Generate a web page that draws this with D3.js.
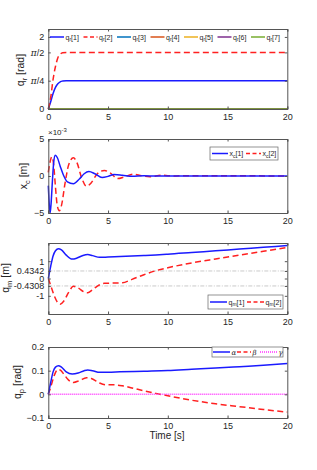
<!DOCTYPE html>
<html>
<head>
<meta charset="utf-8">
<script src="https://cdn.jsdelivr.net/npm/d3@7"></script>
<style>
  body { margin: 0; background: #fff; }
  svg { font-family: "Liberation Sans", Arial, sans-serif; }
  .axis path, .axis line { stroke: #555; }
  .axis text { fill: #262626; font-size: 9px; }
</style>
</head>
<body>
<svg id="chart" width="317" height="470"></svg>
<script>
// ---- data ----
var xTicks = [0, 5, 10, 15, 20];

// panel 1: reference joint angles
var tQr = [0, 0.2, 0.4, 0.6, 0.8, 1.0, 1.2, 1.5, 2, 20];
var qr1 = [0, 0.2, 0.43, 0.6, 0.7, 0.755, 0.775, 0.785, 0.785, 0.785];
var qr2 = [0, 0.32, 0.82, 1.18, 1.42, 1.52, 1.56, 1.571, 1.571, 1.571];
var qrZero = [0, 0, 0, 0, 0, 0, 0, 0, 0, 0];
var qrNames = ["1", "2", "3", "4", "5", "6", "7"];
var qrColors = ["#1a1aff", "#ff2020", "#0072bd", "#d95319", "#edb120", "#7e2f8e", "#77ac30"];

// panel 2: x_c (x 1e-3)
var tXc1 = [0, 0.08, 0.15, 0.22, 0.35, 0.45, 0.58, 0.75, 1.0, 1.3, 1.6, 2.1, 2.6, 3.0, 3.4, 3.9, 4.5, 5.0, 5.5, 6.2, 7, 8, 9, 20];
var xc1 = [-1.3, -3.8, -5.0, -4.0, -0.5, 1.8, 2.8, 2.5, 1.3, 0.0, -0.8, -1.05, -0.4, 0.3, 0.6, 0.3, -0.2, -0.05, 0.2, 0.1, -0.05, 0.02, 0, 0];
var tXc2 = [0, 0.1, 0.3, 0.45, 0.6, 0.75, 0.92, 1.1, 1.4, 1.7, 2.1, 2.4, 2.8, 3.2, 3.6, 4.1, 4.7, 5.2, 5.8, 6.4, 7.1, 7.8, 8.5, 9.5, 10.5, 11.5, 20];
var xc2 = [0.5, 1.5, 2.6, 1.5, -1.5, -4.0, -4.7, -4.0, -1.0, 1.5, 2.45, 1.8, -0.3, -1.4, -0.9, 0.3, 0.75, 0.4, -0.35, -0.1, 0.25, 0.05, -0.1, 0.1, 0.0, 0.05, 0];

// panel 3: q_m
var tQm1 = [0, 0.2, 0.4, 0.6, 0.85, 1.1, 1.5, 2.0, 2.4, 2.9, 3.3, 3.7, 4.3, 5, 6, 7, 8, 9, 10, 12, 14, 16, 18, 20];
var qm1 = [0, 0.7, 1.3, 1.6, 1.72, 1.65, 1.35, 1.12, 1.18, 1.33, 1.38, 1.32, 1.22, 1.24, 1.27, 1.3, 1.33, 1.36, 1.4, 1.5, 1.6, 1.7, 1.8, 1.9];
var tQm2 = [0, 0.2, 0.5, 0.8, 1.0, 1.3, 1.7, 2.1, 2.5, 3.0, 3.3, 3.7, 4.2, 4.7, 5.5, 6.2, 7, 8, 9, 10, 12, 14, 16, 18, 20];
var qm2 = [0, -0.4, -1.0, -1.4, -1.48, -1.3, -0.8, -0.45, -0.55, -0.78, -0.82, -0.65, -0.4, -0.28, -0.26, -0.25, -0.05, 0.22, 0.45, 0.62, 0.9, 1.13, 1.35, 1.57, 1.79];
var qmTicks = [-1, -0.4308, 0, 0.4342, 1];
var qmRefLines = [0.4342, -0.4308];

// panel 4: q_p
var tQp = [0, 0.2, 0.4, 0.6, 0.85, 1.1, 1.5, 2.0, 2.5, 3.0, 3.3, 3.7, 4.3, 5, 6, 8, 10, 12, 14, 16, 18, 20];
var alpha = [0, 0.05, 0.095, 0.115, 0.121, 0.115, 0.095, 0.086, 0.09, 0.1, 0.103, 0.1, 0.093, 0.093, 0.095, 0.098, 0.101, 0.106, 0.111, 0.117, 0.123, 0.13];
var tBeta = [0, 0.2, 0.5, 0.8, 1.0, 1.3, 1.7, 2.1, 2.6, 3.2, 3.6, 4.2, 4.8, 5.5, 6.2, 7, 8, 9, 10, 12, 14, 16, 18, 20];
var beta = [0, 0.03, 0.08, 0.105, 0.103, 0.085, 0.06, 0.05, 0.058, 0.07, 0.067, 0.05, 0.04, 0.04, 0.036, 0.027, 0.015, 0.004, -0.006, -0.025, -0.04, -0.052, -0.064, -0.075];
var tGamma = [0, 20];
var gamma = [0, 0];

// ---- layout ----
var svg = d3.select("#chart");
var x = d3.scaleLinear().domain([0, 20]).range([48.3, 287.3]);
var BLUE = "#1a1aff", RED = "#ff2020";
var DASH = "6,3.5";

function zip(t, v) { return t.map(function(d, i) { return [d, v[i]]; }); }

function makePanel(top, bottom, ydom, yticks, yfmt) {
  var y = d3.scaleLinear().domain(ydom).range([bottom, top]);
  var g = svg.append("g");
  var plot = g.append("g");
  var ax = g.append("g");
  ax.append("g").attr("class", "axis").attr("transform", "translate(0," + bottom + ")")
    .call(d3.axisBottom(x).tickValues(xTicks).tickSize(-2.5).tickPadding(5).tickFormat(d3.format("d")));
  ax.append("g").attr("class", "axis").attr("transform", "translate(0," + top + ")")
    .call(d3.axisTop(x).tickValues(xTicks).tickSize(-2.5).tickFormat(""));
  var yl = ax.append("g").attr("class", "axis").attr("transform", "translate(" + x.range()[0] + ",0)")
    .call(d3.axisLeft(y).tickValues(yticks).tickSize(-2.5).tickPadding(4).tickFormat(yfmt));
  ax.append("g").attr("class", "axis").attr("transform", "translate(" + x.range()[1] + ",0)")
    .call(d3.axisRight(y).tickValues(yticks).tickSize(-2.5).tickFormat(""));
  return {y: y, plot: plot, yl: yl, g: g};
}

function drawLine(p, data, color, dash, width) {
  var line = d3.line().x(function(d) { return x(d[0]); }).y(function(d) { return p.y(d[1]); })
    .curve(d3.curveMonotoneX);
  p.plot.append("path").datum(data).attr("d", line).attr("fill", "none")
    .attr("stroke", color).attr("stroke-width", width || 1.5)
    .attr("stroke-dasharray", dash || null);
}

function yLabel(cx, cy, main, sub, unit) {
  var t = svg.append("text").attr("transform", "translate(" + cx + "," + cy + ") rotate(-90)")
    .attr("text-anchor", "middle").attr("font-size", 10.5).attr("fill", "#262626");
  t.append("tspan").text(main);
  t.append("tspan").attr("dy", 2.5).attr("font-size", 7.5).text(sub);
  t.append("tspan").attr("dy", -2.5).text(" " + unit);
}

// legend item: short line + label with subscript
function legendItem(px, py, len, color, dash, width, main, sub, tail, font) {
  svg.append("line").attr("x1", px).attr("x2", px + len).attr("y1", py).attr("y2", py)
    .attr("stroke", color).attr("stroke-width", width || 1.5).attr("stroke-dasharray", dash || null);
  var t = svg.append("text").attr("x", px + len + 1.5).attr("y", py + 2.5)
    .attr("font-size", 7).attr("fill", "#262626");
  if (font) t.attr("font-family", font).attr("font-style", "italic");
  t.append("tspan").text(main);
  if (sub) {
    t.append("tspan").attr("dy", 1.8).attr("font-size", 5).text(sub);
    t.append("tspan").attr("dy", -1.8).text(tail);
  }
}

// ---- panel 1 ----
var p1 = makePanel(29, 109, [0, 2.22], [0, Math.PI / 4, Math.PI / 2, 2], function(d) { return d; });
p1.yl.selectAll(".tick text").each(function(d, i) {
  var s = d3.select(this);
  if (i === 1 || i === 2) {
    s.text("").attr("fill", "#666").attr("font-size", 8);
    s.append("tspan").attr("font-family", "DejaVu Serif, serif").attr("font-style", "italic").text("\u03c0");
    s.append("tspan").text(i === 1 ? "/4" : "/2");
  }
});
drawLine(p1, zip(tQr, qr1), qrColors[0], null, 1.5);
drawLine(p1, zip(tQr, qr2), qrColors[1], DASH, 1.5);
for (var k = 2; k < 7; k++) drawLine(p1, zip(tQr, qrZero), qrColors[k], null, 1.5);
qrNames.forEach(function(n, i) {
  legendItem(50 + i * 33.5, 37, 14, qrColors[i], i === 1 ? "4,2.5" : null, 1.5, "q", "r", "[" + n + "]");
});
yLabel(24, 70, "q", "r", "[rad]");

// ---- panel 2 ----
var p2 = makePanel(139, 213, [-5, 5], [-5, 0, 5], d3.format("d"));
drawLine(p2, zip(tXc2, xc2), RED, DASH, 1.5);
drawLine(p2, zip(tXc1, xc1), BLUE, null, 1.5);
var ex = svg.append("text").attr("x", 48).attr("y", 135).attr("font-size", 8).attr("fill", "#262626");
ex.append("tspan").text("\u00d710");
ex.append("tspan").attr("dy", -3).attr("font-size", 6).text("-3");
svg.append("rect").attr("x", 210).attr("y", 147).attr("width", 68).attr("height", 13)
  .attr("fill", "#fff").attr("stroke", "#666").attr("stroke-width", 0.7);
legendItem(212, 153.5, 16, BLUE, null, 1.5, "x", "c", "[1]");
legendItem(246, 153.5, 15, RED, "4,2.5", 1.5, "x", "c", "[2]");
yLabel(27, 176, "x", "c", "[m]");

// ---- panel 3 ----
var p3 = makePanel(243, 314, [-2.05, 2.05], qmTicks, function(d) { return d; });
qmRefLines.forEach(function(v) {
  p3.plot.append("line").attr("x1", x(0)).attr("x2", x(20)).attr("y1", p3.y(v)).attr("y2", p3.y(v))
    .attr("stroke", "#bbb").attr("stroke-width", 0.8).attr("stroke-dasharray", "4,1.5,1,1.5");
});
drawLine(p3, zip(tQm2, qm2), RED, DASH, 1.5);
drawLine(p3, zip(tQm1, qm1), BLUE, null, 1.5);
svg.append("rect").attr("x", 208).attr("y", 295).attr("width", 75).attr("height", 14)
  .attr("fill", "#fff").attr("stroke", "#666").attr("stroke-width", 0.7);
legendItem(210, 302, 17, BLUE, null, 1.5, "q", "m", "[1]");
legendItem(247, 302, 17, RED, "4,2.5", 1.5, "q", "m", "[2]");
yLabel(9, 278, "q", "m", "[m]");

// ---- panel 4 ----
var p4 = makePanel(347, 418, [-0.1, 0.2], [-0.1, 0, 0.1, 0.2], d3.format(".1f"));
p4.yl.selectAll(".tick text").text(function(d) { return d === 0 ? "0" : d3.format(".1f")(d); });
drawLine(p4, zip(tBeta, beta), RED, DASH, 1.5);
drawLine(p4, zip(tQp, alpha), BLUE, null, 1.5);
drawLine(p4, zip(tGamma, gamma), "#ff33ff", "1,1", 1.5);
svg.append("rect").attr("x", 212).attr("y", 347).attr("width", 71).attr("height", 10)
  .attr("fill", "#fff").attr("stroke", "#666").attr("stroke-width", 0.7);
legendItem(213, 352, 17, BLUE, null, 1.5, "\u03b1", null, null, "DejaVu Serif, serif");
legendItem(237, 352, 14, RED, "4,2.5", 1.5, "\u03b2", null, null, "DejaVu Serif, serif");
legendItem(260, 352, 17, "#ff33ff", "1,1", 1.5, "\u03b3", null, null, "DejaVu Serif, serif");
yLabel(21, 382, "q", "p", "[rad]");

svg.append("text").attr("x", 167).attr("y", 439).attr("text-anchor", "middle")
  .attr("font-size", 10).attr("fill", "#262626").text("Time [s]");
</script>
</body>
</html>
